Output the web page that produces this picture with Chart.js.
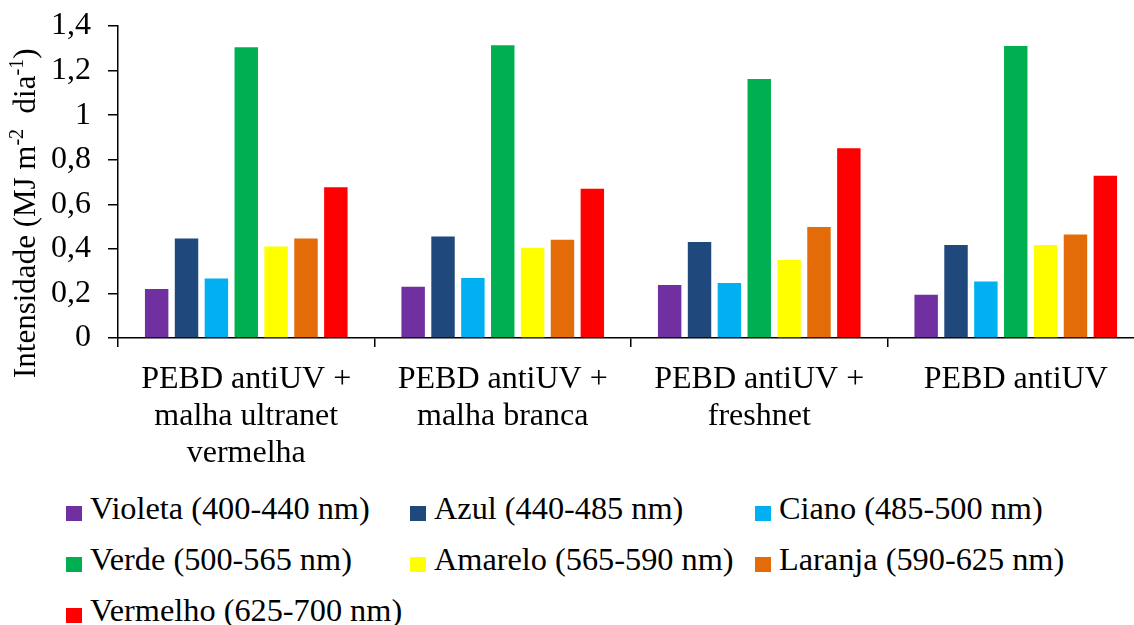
<!DOCTYPE html>
<html>
<head>
<meta charset="utf-8">
<script src="https://cdn.jsdelivr.net/npm/chart.js@4/dist/chart.umd.min.js"></script>
<style>
  html, body { margin: 0; padding: 0; background: #fff; overflow: hidden; }
  #wrap { position: relative; width: 1134px; height: 625px; overflow: hidden; }
  #chart-box { position: absolute; left: 0; top: 0; width: 1144px; height: 480px; }
  .lg-item { position: absolute; font-family: "Liberation Serif", "Times New Roman", serif;
             font-size: 32.3px; line-height: 32px; color: #000; white-space: nowrap; }
  .lg-box { display: inline-block; width: 16px; height: 15px; margin-right: 8px; vertical-align: -2px; }
</style>
</head>
<body>
<div id="wrap">
  <div id="chart-box"><canvas id="barChart"></canvas></div>
  <div id="legend"></div>
</div>
<script>
/* ── 데이터 ───────────────────────────────────────────────── */
var categories = [
  ['PEBD antiUV +', 'malha ultranet', 'vermelha'],
  ['PEBD antiUV +', 'malha branca'],
  ['PEBD antiUV +', 'freshnet'],
  'PEBD antiUV'
];
var seriesNames = [
  'Violeta (400-440 nm)', 'Azul (440-485 nm)', 'Ciano (485-500 nm)',
  'Verde (500-565 nm)', 'Amarelo (565-590 nm)', 'Laranja (590-625 nm)',
  'Vermelho (625-700 nm)'
];
var seriesColors = ['#7030A0', '#1F497D', '#00B0F0', '#00B050', '#FFFF00', '#E36C09', '#FF0000'];

var violeta  = [0.22, 0.23, 0.238, 0.194];
var azul     = [0.447, 0.455, 0.431, 0.417];
var ciano    = [0.267, 0.269, 0.247, 0.253];
var verde    = [1.305, 1.314, 1.162, 1.31];
var amarelo  = [0.411, 0.405, 0.35, 0.417];
var laranja  = [0.447, 0.441, 0.498, 0.464];
var vermelho = [0.677, 0.67, 0.852, 0.728];
var seriesValues = [violeta, azul, ciano, verde, amarelo, laranja, vermelho];

var yTicks = { min: 0, max: 1.4, step: 0.2 };

var FONT = '"Liberation Serif", "Times New Roman", serif';

/* ── 세로축 제목 (위첨자 포함) ─────────────────────────────── */
var yTitlePlugin = {
  id: 'yTitle',
  afterDraw: function(chart) {
    var ctx = chart.ctx;
    var parts = [
      { t: 'Intensidade (MJ m', sup: false },
      { t: '-2', sup: true },
      { t: '  dia', sup: false },
      { t: '-1', sup: true },
      { t: ')', sup: false }
    ];
    ctx.save();
    ctx.translate(35, 378);
    ctx.rotate(-Math.PI / 2);
    ctx.fillStyle = '#000';
    ctx.textAlign = 'left';
    ctx.textBaseline = 'alphabetic';
    var x = 0;
    parts.forEach(function(p) {
      ctx.font = (p.sup ? '20px ' : '31px ') + FONT;
      ctx.fillText(p.t, x, p.sup ? -12 : 0);
      x += ctx.measureText(p.t).width;
    });
    ctx.restore();
  }
};

/* ── 차트 ─────────────────────────────────────────────────── */
new Chart(document.getElementById('barChart'), {
  type: 'bar',
  data: {
    labels: categories,
    datasets: seriesValues.map(function(vals, i) {
      return {
        label: seriesNames[i],
        data: vals,
        backgroundColor: seriesColors[i],
        borderWidth: 0,
        categoryPercentage: 0.815,
        barPercentage: 0.785
      };
    })
  },
  options: {
    responsive: true, maintainAspectRatio: false, animation: false,
    layout: { padding: { top: 26, left: 0, right: 0, bottom: 0 } },
    plugins: { legend: { display: false }, tooltip: { enabled: false } },
    scales: {
      x: {
        afterFit: function(s) { s.height = 142; s.paddingLeft = 0; s.paddingRight = 0; },
        border: { color: '#000', width: 1.5 },
        grid: { offset: true, drawOnChartArea: false, color: '#000', lineWidth: 1.5, tickLength: 9 },
        ticks: { color: '#000', padding: 14, maxRotation: 0, autoSkip: false,
                 font: { family: FONT, size: 32, lineHeight: 1.16 } }
      },
      y: {
        min: yTicks.min, max: yTicks.max,
        afterFit: function(s) { s.width = 118; s.paddingTop = 0; s.paddingBottom = 0; },
        border: { color: '#000', width: 1.5 },
        grid: { drawOnChartArea: false, color: '#000', lineWidth: 1.5, tickLength: 10 },
        ticks: {
          stepSize: yTicks.step, color: '#000', padding: 17,
          font: { family: FONT, size: 32 },
          callback: function(v) { return String(Math.round(v * 10) / 10).replace('.', ','); }
        }
      }
    }
  },
  plugins: [yTitlePlugin]
});

/* ── 범례 ─────────────────────────────────────────────────── */
var legendCols = [66, 410, 755];
var legendRows = [492, 543, 594];
var legendEl = document.getElementById('legend');
legendEl.innerHTML = seriesNames.map(function(name, i) {
  var left = legendCols[i % 3], top = legendRows[Math.floor(i / 3)];
  return '<div class="lg-item" style="left:' + left + 'px;top:' + top + 'px">'
    + '<span class="lg-box" style="background:' + seriesColors[i] + '"></span>' + name
    + '</div>';
}).join('');
</script>
</body>
</html>
